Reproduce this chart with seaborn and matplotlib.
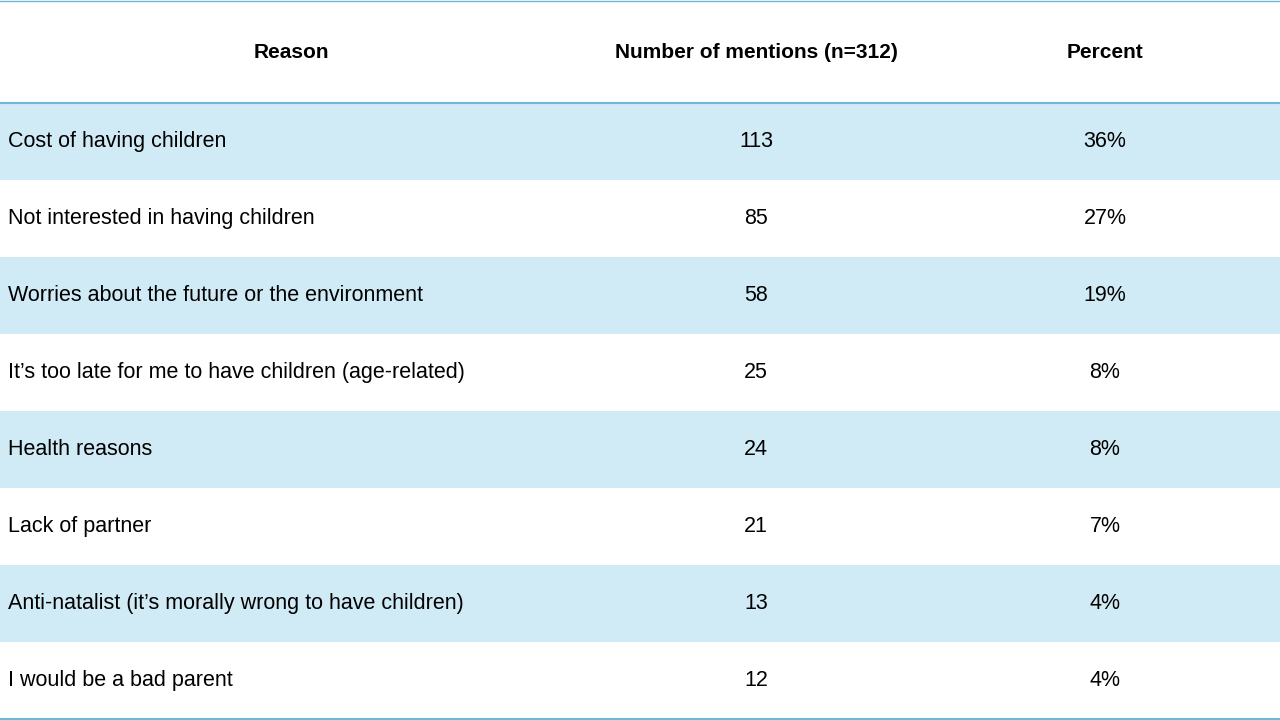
import matplotlib
matplotlib.use("Agg")
import matplotlib.pyplot as plt
import seaborn as sns

sns.set_theme(style="white")
plt.rcParams['font.family'] = ['Liberation Sans', 'DejaVu Sans']

headers = ["Reason", "Number of mentions (n=312)", "Percent"]
reasons = ["Cost of having children", "Not interested in having children",
           "Worries about the future or the environment",
           "It\u2019s too late for me to have children (age-related)",
           "Health reasons", "Lack of partner",
           "Anti-natalist (it\u2019s morally wrong to have children)",
           "I would be a bad parent"]
mentions = [113, 85, 58, 25, 24, 21, 13, 12]
percents = ["36%", "27%", "19%", "8%", "8%", "7%", "4%", "4%"]

W, H = 1280, 720
fig = plt.figure(figsize=(12.8, 7.2), dpi=100)
ax = fig.add_axes([0, 0, 1, 1])
ax.set_xlim(0, W); ax.set_ylim(H, 0); ax.axis("off")

header_h = 103
row_h = (719 - header_h) / len(reasons)
line_c = "#6DB8D4"
fill_c = "#D0EBF5"

ax.text(291, 53, headers[0], ha="center", va="center", fontsize=15, fontweight="bold", color="black")
ax.text(756, 53, headers[1], ha="center", va="center", fontsize=15, fontweight="bold", color="black")
ax.text(1105, 53, headers[2], ha="center", va="center", fontsize=15, fontweight="bold", color="black")

for i, (r, m, p) in enumerate(zip(reasons, mentions, percents)):
    y0 = header_h + i * row_h
    if i % 2 == 0:
        ax.add_patch(plt.Rectangle((0, y0), W, row_h, color=fill_c, lw=0))
    yc = y0 + row_h / 2
    ax.text(8, yc, r, ha="left", va="center", fontsize=15.5, color="black")
    ax.text(756, yc, str(m), ha="center", va="center", fontsize=15.5, color="black")
    ax.text(1105, yc, p, ha="center", va="center", fontsize=15.5, color="black")

ax.plot([0, W], [1, 1], color=line_c, lw=1)
ax.plot([0, W], [header_h, header_h], color=line_c, lw=1.5)
ax.plot([0, W], [719, 719], color=line_c, lw=1.5)

fig.savefig("out.png", dpi=100)
